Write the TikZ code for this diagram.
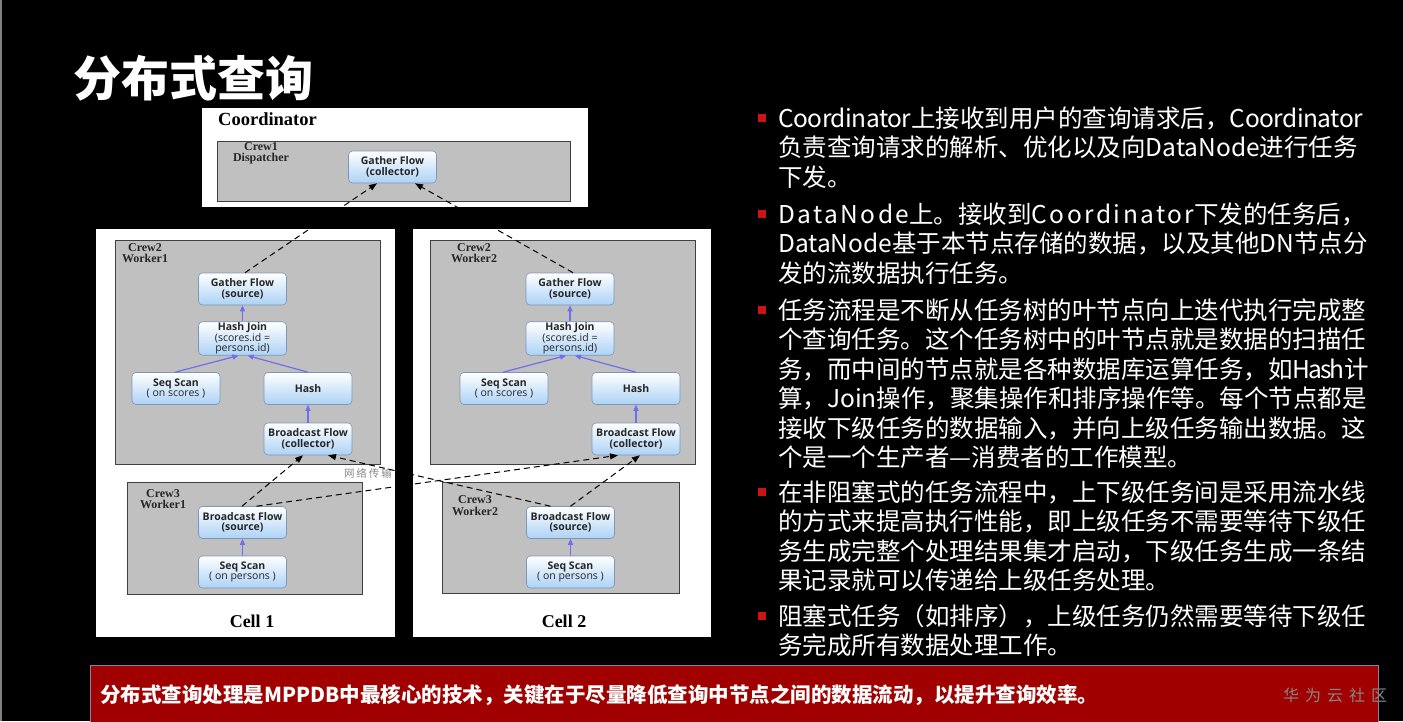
\documentclass[tikz,border=0pt]{standalone}
\usepackage{fontspec}
\newfontfamily\cjk{Noto Sans CJK SC}
\newfontfamily\osans{Open Sans}
\newfontfamily\tms{Liberation Serif}
\usetikzlibrary{arrows.meta}
\definecolor{barred}{RGB}{160,0,0}
\definecolor{baredge}{RGB}{130,130,170}
\definecolor{bulred}{RGB}{205,20,20}
\definecolor{panelgrey}{RGB}{192,192,192}
\definecolor{flowedge}{RGB}{125,150,185}
\definecolor{flowblue}{RGB}{172,210,246}
\definecolor{planblue}{RGB}{110,110,240}
\definecolor{wmgrey}{RGB}{135,135,135}
\newcommand\bulletline[3]{\node[btext] (#1) at (778,#2) {#3};}
\newcommand\lat[2][-2]{{\addfontfeature{LetterSpace=#1}#2}}
\begin{document}
\begin{tikzpicture}[x=1pt,y=-1pt,
  btext/.style={anchor=base west, inner sep=0pt, text=white, font=\cjk\fontsize{24.5}{29}\selectfont},
  flowbox/.style={rounded corners=4pt, draw=flowedge, line width=0.6pt, top color=white, bottom color=flowblue,
    minimum width=88pt, minimum height=32pt, inner sep=1pt, align=center,
    font=\osans\fontsize{10.5}{10.5}\selectfont, text=black!85},
  crewlbl/.style={font=\tms\bfseries\fontsize{12}{11.5}\selectfont, align=center, inner sep=0pt, text=black!85},
  celllbl/.style={font=\tms\bfseries\fontsize{18}{20}\selectfont, inner sep=0pt},
  panel/.style={fill=panelgrey, draw=black!75, line width=1pt},
  dasharrow/.style={draw=black, line width=1pt, dash pattern=on 6pt off 4pt, -{Triangle[length=8pt,width=6pt]}},
  planarrow/.style={draw=planblue, line width=1.2pt, -{Triangle[length=6pt,width=5pt]}}]
\fill[black] (0,0) rectangle (1403,721);
\useasboundingbox (0,0) rectangle (1403,721);
\draw[gray, line width=1.5pt] (0.75,0) -- (0.75,721);

% title
\node[anchor=base west, inner sep=0pt, text=white, font=\cjk\bfseries\fontsize{48}{50}\selectfont] (title) at (73,96.5) {分布式查询};

% diagram frames
\fill[white] (202,108) rectangle (588,207);
\fill[white] (96,229) rectangle (395,637);
\fill[white] (413,229) rectangle (711,637);
\draw[panel] (217,141) rectangle (570,201);
\draw[panel] (115,240) rectangle (380,464);
\draw[panel] (430,240) rectangle (695,464);
\draw[panel] (127,482) rectangle (362,594);
\draw[panel] (442,482) rectangle (679,593);

\node[anchor=base west, inner sep=0pt, font=\tms\bfseries\fontsize{18.5}{20}\selectfont] (coordlbl) at (218,125) {Coordinator};
\node[crewlbl] (crew1) at (261,153.5) {Crew1\\Dispatcher};
\node[crewlbl] (crew2a) at (145,253) {Crew2\\Worker1};
\node[crewlbl] (crew2b) at (474,253) {Crew2\\Worker2};
\node[crewlbl] (crew3a) at (163,499) {Crew3\\Worker1};
\node[crewlbl] (crew3b) at (475,505.5) {Crew3\\Worker2};
\node[celllbl] (cell1) at (252,621) {Cell 1};
\node[celllbl] (cell2) at (564,621) {Cell 2};

% flow nodes
\node[flowbox] (coll) at (392.5,167) {\bfseries Gather Flow\\\bfseries (collector)};

\node[flowbox] (gs1) at (242.5,289) {\bfseries Gather Flow\\\bfseries (source)};
\node[flowbox] (hj1) at (242.5,338.5) {\bfseries Hash Join\\(scores.id =\\persons.id)};
\node[flowbox] (ss1) at (176,388.5) {\bfseries Seq Scan\\( on scores )};
\node[flowbox] (h1) at (308,388.5) {\bfseries Hash};
\node[flowbox] (bc1) at (308,439) {\bfseries Broadcast Flow\\\bfseries (collector)};
\node[flowbox] (bs1) at (242.5,522.5) {\bfseries Broadcast Flow\\\bfseries (source)};
\node[flowbox] (sp1) at (242.5,572) {\bfseries Seq Scan\\( on persons )};

\node[flowbox] (gs2) at (570,289) {\bfseries Gather Flow\\\bfseries (source)};
\node[flowbox] (hj2) at (570,338.5) {\bfseries Hash Join\\(scores.id =\\persons.id)};
\node[flowbox] (ss2) at (504,388.5) {\bfseries Seq Scan\\( on scores )};
\node[flowbox] (h2) at (636,388.5) {\bfseries Hash};
\node[flowbox] (bc2) at (636,439) {\bfseries Broadcast Flow\\\bfseries (collector)};
\node[flowbox] (bs2) at (570.5,522.5) {\bfseries Broadcast Flow\\\bfseries (source)};
\node[flowbox] (sp2) at (570.5,572) {\bfseries Seq Scan\\( on persons )};

\node[inner sep=0pt, text=wmgrey, font=\cjk\fontsize{10.5}{12}\selectfont] (net) at (368,473) {网\hspace{2pt}络\hspace{2pt}传\hspace{2pt}输};

% blue plan arrows
\draw[planarrow] (hj1.north) -- (gs1.south);
\draw[planarrow] ([xshift=-1pt]ss1.north) -- ([xshift=-4pt]hj1.south);
\draw[planarrow] (h1.north) -- ([xshift=5pt]hj1.south);
\draw[planarrow] (bc1.north) -- (h1.south);
\draw[planarrow] (sp1.north) -- (bs1.south);
\draw[planarrow] (hj2.north) -- (gs2.south);
\draw[planarrow] ([xshift=-1pt]ss2.north) -- ([xshift=-4pt]hj2.south);
\draw[planarrow] (h2.north) -- ([xshift=5pt]hj2.south);
\draw[planarrow] (bc2.north) -- (h2.south);
\draw[planarrow] (sp2.north) -- (bs2.south);

% dashed data-flow arrows
\draw[dasharrow] ([xshift=2.5pt]gs1.north) -- ([xshift=-15.5pt]coll.south);
\draw[dasharrow] ([xshift=3pt]gs2.north) -- ([xshift=22.5pt]coll.south);
\draw[dasharrow] ([xshift=-0.5pt]bs1.north) -- ([xshift=-5pt]bc1.south);
\draw[dasharrow] ([xshift=14pt]bs1.north) -- ([xshift=-18pt]bc2.south);
\draw[dasharrow] ([xshift=-20pt]bs2.north) -- ([xshift=20pt]bc1.south);
\draw[dasharrow] (bs2.north) -- ([xshift=4pt]bc2.south);

% bullets
\foreach \c in {118,214,310,492,616} \fill[bulred] (758,\c-4.5) rectangle (766,\c+4);
\bulletline{b1a}{127.3}{\lat{Coordinator}上接收到用户的查询请求后，\lat{Coordinator}}
\bulletline{b1b}{156.8}{负责查询请求的解析、优化以及向DataNode进行任务}
\bulletline{b1c}{186.3}{下发。}
\bulletline{b2a}{223.3}{\lat[10]{DataNode}上。接收到\lat[10]{Coordinator}下发的任务后，}
\bulletline{b2b}{252.8}{DataNode基于本节点存储的数据，以及其他DN节点分}
\bulletline{b2c}{282.3}{发的流数据执行任务。}
\bulletline{b3a}{319.3}{任务流程是不断从任务树的叶节点向上迭代执行完成整}
\bulletline{b3b}{348.8}{个查询任务。这个任务树中的叶节点就是数据的扫描任}
\bulletline{b3c}{378.3}{务，而中间的节点就是各种数据库运算任务，如\lat[-8]{Hash}计}
\bulletline{b3d}{407.8}{算，Join操作，聚集操作和排序操作等。每个节点都是}
\bulletline{b3e}{437.3}{接收下级任务的数据输入，并向上级任务输出数据。这}
\bulletline{b3f}{466.8}{个是一个生产者—消费者的工作模型。}
\bulletline{b4a}{501.3}{在非阻塞式的任务流程中，上下级任务间是采用流水线}
\bulletline{b4b}{530.8}{的方式来提高执行性能，即上级任务不需要等待下级任}
\bulletline{b4c}{560.3}{务生成完整个处理结果集才启动，下级任务生成一条结}
\bulletline{b4d}{589.8}{果记录就可以传递给上级任务处理。}
\bulletline{b5a}{625.3}{阻塞式任务（如排序），上级任务仍然需要等待下级任}
\bulletline{b5b}{654.8}{务完成所有数据处理工作。}

% bottom bar
\draw[fill=barred, draw=baredge, line width=1pt] (90,665) rectangle (1378,723);
\node[anchor=base west, inner sep=0pt, text=white, font=\cjk\bfseries\fontsize{20.5}{22}\selectfont] (summary) at (100,702.5) {分布式查询处理是MPPDB中最核心的技术，关键在于尽量降低查询中节点之间的数据流动，以提升查询效率。};
\node[anchor=base west, inner sep=0pt, text=wmgrey, font=\cjk\fontsize{16}{18}\selectfont] (mark) at (1283,701) {华\hspace{6pt}为\hspace{6pt}云\hspace{6pt}社\hspace{6pt}区};
\end{tikzpicture}
\end{document}
